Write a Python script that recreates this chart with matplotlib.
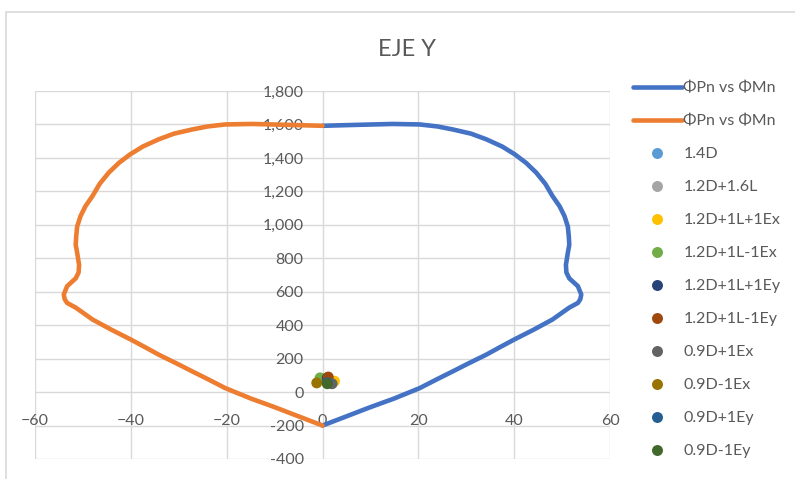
import matplotlib.pyplot as plt
from matplotlib.lines import Line2D
from matplotlib.patches import Rectangle

# --- Diagrama de interaccion, eje Y ---
mn_pos = [0, 6.4, 14.7, 20.3, 24.0, 27.2, 31.0, 34.2, 37.5, 40.1, 42.5, 44.6, 46.5,
          48.0, 49.5, 50.5, 51.2, 51.4, 51.5, 51.2, 50.8, 50.9, 51.5, 53.3, 54.0, 53.8,
          53.3, 51.5, 48.0, 44.0, 40.0, 37.0, 34.2, 30.5, 27.2, 23.7, 20.3, 15.0, 10.0,
          5.0, 0]
pn_pos = [1592, 1597, 1603, 1600, 1588, 1570, 1545, 1511, 1468, 1422, 1370, 1312, 1245,
          1172, 1110, 1052, 990, 932, 880, 833, 760, 715, 680, 633, 583, 555,
          533, 505, 434, 372, 314, 268, 224, 172, 124, 74, 24, -38, -90,
          -145, -200]

mn_neg = [0, -6.4, -14.7, -20.3, -24.0, -27.2, -31.0, -34.2, -37.5, -40.1, -42.5, -44.6, -46.5,
          -48.0, -49.5, -50.5, -51.2, -51.4, -51.5, -51.2, -50.8, -50.9, -51.5, -53.3, -54.0, -53.8,
          -53.3, -51.5, -48.0, -44.0, -40.0, -37.0, -34.2, -30.5, -27.2, -23.7, -20.3, -15.0, -10.0,
          -5.0, 0]
pn_neg = [1592, 1597, 1603, 1600, 1588, 1570, 1545, 1511, 1468, 1422, 1370, 1312, 1245,
          1172, 1110, 1052, 990, 932, 880, 833, 760, 715, 680, 633, 583, 555,
          533, 505, 434, 372, 314, 268, 224, 172, 124, 74, 24, -38, -90,
          -145, -200]

# --- Combinaciones de carga (Mu, Pu) ---
combos = ["1.4D", "1.2D+1.6L", "1.2D+1L+1Ex", "1.2D+1L-1Ex", "1.2D+1L+1Ey",
          "1.2D+1L-1Ey", "0.9D+1Ex", "0.9D-1Ex", "0.9D+1Ey", "0.9D-1Ey"]
mu = [0.9, 1.0, 2.5, -0.5, 1.0, 1.2, 2.0, -1.2, 1.0, 1.0]
pu = [75, 80, 65, 85, 85, 90, 50, 55, 55, 50]
combo_colors = ["#5B9BD5", "#A5A5A5", "#FFC000", "#70AD47", "#264478",
                "#9E480E", "#636363", "#997300", "#255E91", "#43682B"]

plt.rcParams['font.family'] = ['Lato', 'DejaVu Sans']
txt = "#595959"
grid = "#D9D9D9"

W, H = 795, 479
fig = plt.figure(figsize=(W / 100, H / 100), dpi=100)
ax = fig.add_axes([35 / W, 1 - 459 / H, (610 - 35) / W, (459 - 91) / H])

line_kw = dict(lw=3.3, solid_joinstyle='round', solid_capstyle='round')
ax.plot(mn_pos, pn_pos, color="#4472C4", zorder=3, **line_kw)
ax.plot(mn_neg, pn_neg, color="#ED7D31", zorder=3, **line_kw)
for m, p, c in zip(mu, pu, combo_colors):
    ax.scatter(m, p, s=62, color=c, edgecolors='none', zorder=4)

ax.set_xlim(-60, 60)
ax.set_ylim(-400, 1800)
ax.set_xticks(range(-60, 61, 20))
ax.set_yticks(range(-400, 1801, 200))
ax.yaxis.set_major_formatter(plt.FuncFormatter(lambda v, _: f"{v:,.0f}"))
ax.grid(True, color=grid, lw=1.0)
ax.set_axisbelow(True)

# ejes cruzando en el origen
ax.spines['left'].set_position(('data', 0))
ax.spines['bottom'].set_position(('data', 0))
for s in ax.spines.values():
    s.set_visible(False)
ax.tick_params(axis='both', length=0, labelsize=11.5, labelcolor=txt)
ax.tick_params(axis='y', pad=13.5)
ax.tick_params(axis='x', pad=16)

fig.text(407 / W, 1 - 50 / H, "EJE Y", ha='center', va='center', fontsize=17, color=txt)

# leyenda
handles = [Line2D([], [], color="#4472C4", lw=3.3, solid_capstyle='round'),
           Line2D([], [], color="#ED7D31", lw=3.3, solid_capstyle='round')]
labels = ["ΦPn vs ΦMn", "ΦPn vs ΦMn"]
for name, c in zip(combos, combo_colors):
    handles.append(Line2D([], [], ls='none', marker='o', markersize=7.9,
                          markerfacecolor=c, markeredgecolor='none'))
    labels.append(name)
leg = fig.legend(handles, labels, loc='upper left',
                 bbox_to_anchor=(633 / W, 1 - 81 / H), frameon=False,
                 fontsize=11.5, handlelength=3.06, handletextpad=0.1,
                 labelspacing=1.18, borderpad=0, borderaxespad=0)
for t in leg.get_texts():
    t.set_color(txt)

# borde del area del grafico
fig.patches.append(Rectangle((6 / W, -0.1), 1.2, 1.1 - 12 / H, transform=fig.transFigure,
                             fill=False, edgecolor=grid, lw=1.2))

fig.savefig("out.png", dpi=100)
